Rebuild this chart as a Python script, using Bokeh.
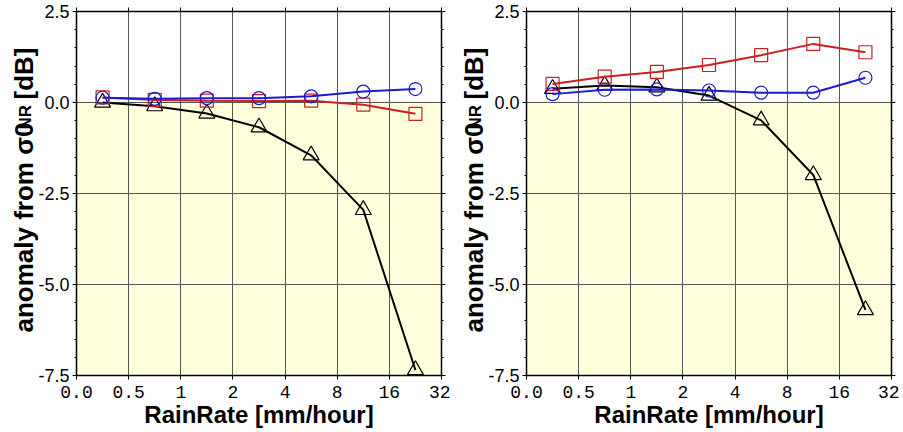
import numpy as np
from bokeh.plotting import figure
from bokeh.models import FixedTicker, LinearAxis, Range1d, BoxAnnotation, PrintfTickFormatter
from bokeh.core.properties import value
from bokeh.layouts import row
from bokeh.embed import file_html
from bokeh.resources import INLINE

# ---------------- data ----------------
rain_tick_labels = ["0.0", "0.5", "1", "2", "4", "8", "16", "32"]
y_major_ticks = [-7.5, -5.0, -2.5, 0.0, 2.5]

left_circle = [0.13, 0.10, 0.12, 0.12, 0.17, 0.30, 0.37]
left_square = [0.14, 0.07, 0.05, 0.04, 0.05, -0.06, -0.31]
left_triangle = [0.0, -0.10, -0.30, -0.68, -1.45, -2.95, -7.35]

right_circle = [0.23, 0.35, 0.36, 0.33, 0.27, 0.27, 0.68]
right_square = [0.51, 0.71, 0.84, 1.03, 1.30, 1.61, 1.38]
right_triangle = [0.38, 0.47, 0.42, 0.19, -0.49, -1.99, -5.70]

ylabel_main = "anomaly from \u03c30"
ylabel_sub = "NR"
ylabel_tail = "[dB]"
xlabel = "RainRate [mm/hour]"

# ---------------- style ----------------
RED = "#cc2020"
BLUE = "#1c1ccc"
YELLOW = "#ffffdc"
GRID = "#555555"
FONT = "Liberation Sans"
MONO = "Liberation Mono"

FRAME_W = 365
FRAME_H = 364
TOP = 11
LABEL_W = 46
OVERLAP = 12
Y0, Y1 = -7.5, 2.5


def make_label_fig():
    lf = figure(frame_width=LABEL_W, frame_height=FRAME_H,
                x_range=Range1d(0, LABEL_W), y_range=Range1d(0, FRAME_H),
                x_axis_type=None, y_axis_type=None,
                output_backend="svg", toolbar_location=None,
                min_border_left=0, min_border_right=0,
                min_border_top=TOP, min_border_bottom=0,
                margin=(0, -OVERLAP, 0, 0))
    lf.outline_line_color = None
    lf.xgrid.visible = False
    lf.ygrid.visible = False
    base = 23
    common = dict(angle=np.pi / 2, text_font=value(FONT), text_font_style="bold",
                  text_color="black", text_align="left", text_baseline="alphabetic")
    lf.text(x=[base], y=[43], text=[ylabel_main], text_font_size="26px", **common)
    lf.text(x=[base + 2], y=[246], text=[ylabel_sub], text_font_size="17px", **common)
    lf.text(x=[base], y=[276], text=[ylabel_tail], text_font_size="26px", **common)
    return lf


def frame_axis(ticker, minor_out):
    # tick-only axis for the top / right frame edges (no labels drawn)
    return LinearAxis(ticker=ticker, major_label_text_font_size="0px",
                      major_label_text_color=None, major_label_text_alpha=0,
                      major_label_standoff=0, major_tick_out=4, major_tick_in=0,
                      minor_tick_out=minor_out, minor_tick_in=0, axis_line_width=1.5,
                      axis_line_color="black")


def make_panel(circ, sq, tri, right_border):
    n_bins = len(rain_tick_labels) - 1
    x_ticks = list(range(n_bins + 1))
    x_mid = np.arange(n_bins) + 0.5

    p = figure(frame_width=FRAME_W, frame_height=FRAME_H,
               x_range=Range1d(0, n_bins), y_range=Range1d(Y0, Y1),
               output_backend="svg", toolbar_location=None,
               min_border_left=42, min_border_right=right_border,
               min_border_top=TOP, min_border_bottom=50,
               background_fill_color="white", border_fill_color="white",
               border_fill_alpha=0.0)
    p.outline_line_color = None

    p.add_layout(BoxAnnotation(top=0, fill_color=YELLOW, fill_alpha=1.0,
                               line_color=None, level="image"))

    minor = list(np.arange(Y0, Y1 + 0.01, 0.5))
    yticker = FixedTicker(ticks=y_major_ticks, minor_ticks=minor)
    xticker = FixedTicker(ticks=x_ticks)
    overrides = {i: lab for i, lab in enumerate(rain_tick_labels)}

    xa = p.xaxis[0]
    xa.ticker = xticker
    xa.major_label_overrides = overrides
    xa.major_label_text_font = MONO
    xa.major_label_text_font_size = "18px"
    xa.major_label_text_color = "black"
    xa.major_label_standoff = 6
    xa.major_tick_out = 4
    xa.major_tick_in = 0
    xa.minor_tick_out = 0
    xa.minor_tick_in = 0
    xa.axis_line_width = 1.5
    xa.axis_line_color = "black"
    xa.major_tick_line_color = "black"
    xa.axis_label = xlabel
    xa.axis_label_text_font = FONT
    xa.axis_label_text_font_style = "bold"
    xa.axis_label_text_font_size = "24px"
    xa.axis_label_text_color = "black"
    xa.axis_label_standoff = 0

    ya = p.yaxis[0]
    ya.ticker = yticker
    ya.formatter = PrintfTickFormatter(format="%.1f")
    ya.major_label_text_font = FONT
    ya.major_label_text_font_size = "18px"
    ya.major_label_text_color = "black"
    ya.major_label_standoff = 3
    ya.major_tick_out = 4
    ya.major_tick_in = 0
    ya.minor_tick_out = 2
    ya.minor_tick_in = 0
    ya.axis_line_width = 1.5
    ya.axis_line_color = "black"

    p.add_layout(frame_axis(xticker, 0), "above")
    p.add_layout(frame_axis(yticker, 2), "right")

    p.xgrid.ticker = xticker
    p.ygrid.ticker = FixedTicker(ticks=y_major_ticks)
    for g in (p.xgrid[0], p.ygrid[0]):
        g.grid_line_color = GRID
        g.grid_line_width = 1
        g.grid_line_alpha = 1.0

    p.line(x_mid, tri, line_color="black", line_width=2)
    p.scatter(x_mid, tri, marker="triangle", size=16, fill_color=None,
              line_color="black", line_width=1.2)
    p.line(x_mid, sq, line_color=RED, line_width=2)
    p.scatter(x_mid, sq, marker="square", size=13, fill_color=None,
              line_color=RED, line_width=1.2)
    p.line(x_mid, circ, line_color=BLUE, line_width=2)
    p.scatter(x_mid, circ, marker="circle", size=13, fill_color=None,
              line_color=BLUE, line_width=1.2)
    return p


lf1 = make_label_fig()
p1 = make_panel(left_circle, left_square, left_triangle, 9)
lf2 = make_label_fig()
p2 = make_panel(right_circle, right_square, right_triangle, 8)
layout = row(lf1, p1, lf2, p2)

open("out.html", "w").write(file_html(layout, INLINE))
